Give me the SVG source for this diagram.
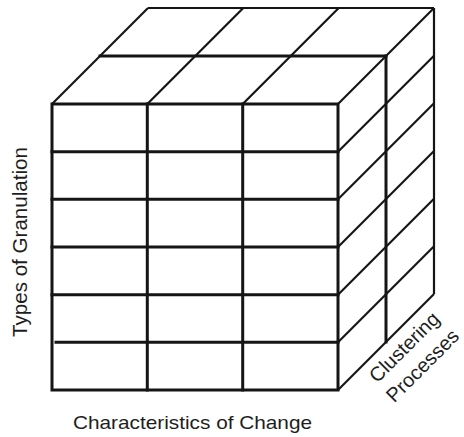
<svg xmlns="http://www.w3.org/2000/svg" width="464" height="437" viewBox="0 0 464 437">
<style>
.thick{stroke:#151515;stroke-width:3;fill:none;stroke-linecap:square}
.thin{stroke:#151515;stroke-width:2.2;fill:none;stroke-linecap:butt}
.lbl{font-family:"Liberation Sans",Arial,sans-serif;fill:#1e1e1e}
</style>
<rect width="464" height="437" fill="#fff"/>
<g id="top-face">
<line class="thin" x1="148" y1="8" x2="434" y2="8"/>
<line class="thick" x1="100" y1="56" x2="386" y2="56"/>
<line class="thin" x1="52" y1="104" x2="148" y2="8"/>
<line class="thin" x1="147.3" y1="104" x2="243.3" y2="8"/>
<line class="thin" x1="242.7" y1="104" x2="338.7" y2="8"/>
<line class="thin" x1="338" y1="104" x2="434" y2="8"/>
</g>
<g id="right-face">
<line class="thin" x1="434" y1="8" x2="434" y2="294"/>
<line class="thick" x1="386" y1="56" x2="386" y2="342"/>
<line class="thin" x1="338" y1="151.7" x2="434" y2="55.7"/>
<line class="thin" x1="338" y1="199.3" x2="434" y2="103.3"/>
<line class="thin" x1="338" y1="247" x2="434" y2="151"/>
<line class="thin" x1="338" y1="294.7" x2="434" y2="198.7"/>
<line class="thin" x1="338" y1="342.3" x2="434" y2="246.3"/>
<line class="thin" x1="338" y1="390" x2="434" y2="294"/>
</g>
<g id="front-face">
<rect class="thick" x="52" y="104" width="286" height="286"/>
<line class="thick" x1="147.3" y1="104" x2="147.3" y2="390"/>
<line class="thick" x1="242.7" y1="104" x2="242.7" y2="390"/>
<line class="thick" x1="52" y1="151.7" x2="338" y2="151.7"/>
<line class="thick" x1="52" y1="199.3" x2="338" y2="199.3"/>
<line class="thick" x1="52" y1="247" x2="338" y2="247"/>
<line class="thick" x1="52" y1="294.7" x2="338" y2="294.7"/>
<line class="thick" x1="56" y1="342.3" x2="338" y2="342.3"/>
</g>
<g id="label-granulation">
<text class="lbl" font-size="20" text-anchor="middle" transform="translate(26.5,242) rotate(-90)" textLength="190" lengthAdjust="spacingAndGlyphs">Types of Granulation</text>
</g>
<g id="label-change">
<text class="lbl" font-size="18.5" x="73" y="428.5" textLength="239" lengthAdjust="spacingAndGlyphs">Characteristics of Change</text>
</g>
<g id="label-clustering">
<g transform="translate(409,352) rotate(-45)">
<text class="lbl" font-size="20" text-anchor="middle" x="0" y="0">Clustering</text>
<text class="lbl" font-size="20" text-anchor="middle" x="0" y="26">Processes</text>
</g>
</g>
</svg>
